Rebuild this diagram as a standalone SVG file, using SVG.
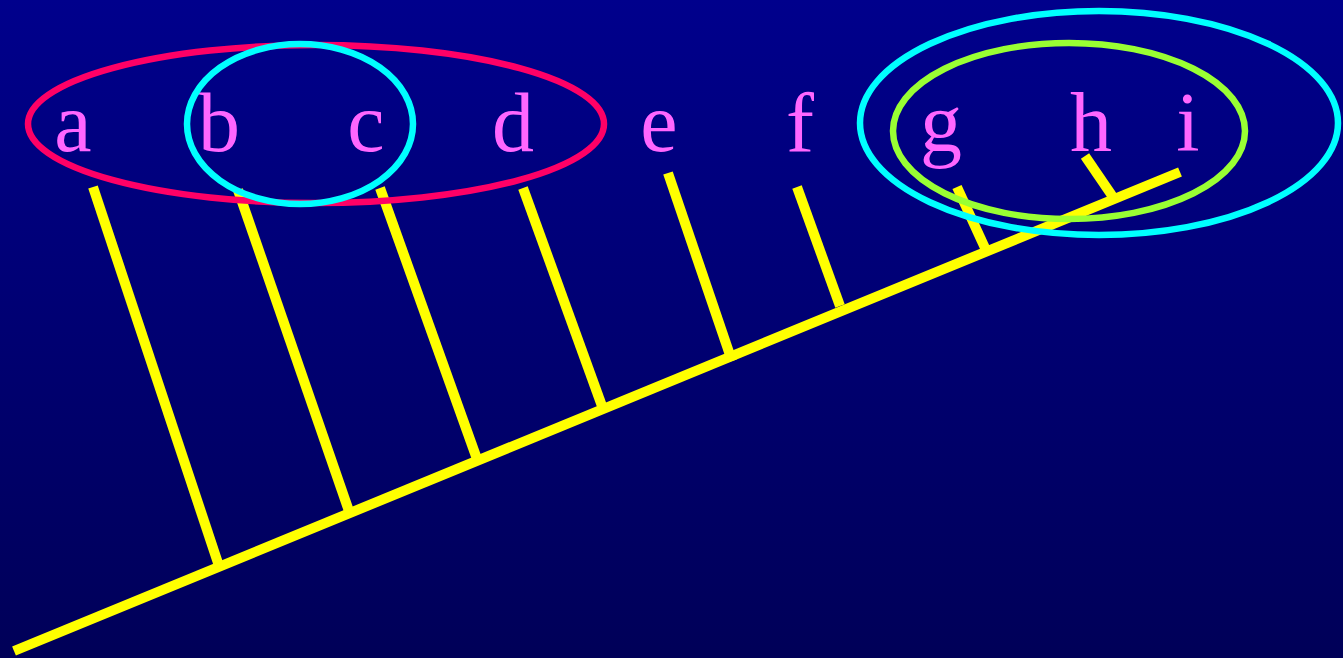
<svg xmlns="http://www.w3.org/2000/svg" width="1343" height="658" viewBox="0 0 1343 658">
<defs>
<linearGradient id="bg" x1="0" y1="0" x2="0" y2="1">
<stop offset="0" stop-color="#00008C"/>
<stop offset="1" stop-color="#000058"/>
</linearGradient>
</defs>
<style>
.edge{stroke:#FFFF00;stroke-width:10;fill:none;stroke-linecap:butt}
.lbl{font-family:"Liberation Serif","Times New Roman",serif;font-size:84px;fill:#FF66FF;text-anchor:middle}
.grp{fill:none;stroke-width:6.5}
</style>
<rect x="0" y="0" width="1343" height="658" fill="url(#bg)"/>
<g id="connectors">
<line class="edge" x1="14" y1="651" x2="1180" y2="172"/>
<line class="edge" x1="93" y1="187" x2="219" y2="566"/>
<line class="edge" x1="238" y1="190" x2="350" y2="514"/>
<line class="edge" x1="380" y1="188" x2="477" y2="459"/>
<line class="edge" x1="523" y1="188" x2="602" y2="406"/>
<line class="edge" x1="668" y1="173" x2="732" y2="361"/>
<line class="edge" x1="797" y1="187" x2="840" y2="306"/>
<line class="edge" x1="957" y1="187" x2="985" y2="248"/>
<line class="edge" x1="1085" y1="156" x2="1113" y2="197"/>
</g>
<g id="node-a"><text class="lbl" x="73" y="151">a</text></g>
<g id="node-b"><text class="lbl" x="219" y="151">b</text></g>
<g id="node-c"><text class="lbl" x="366" y="151">c</text></g>
<g id="node-d"><text class="lbl" x="513" y="151">d</text></g>
<g id="node-e"><text class="lbl" x="659" y="151">e</text></g>
<g id="node-f"><text class="lbl" x="800" y="151">f</text></g>
<g id="node-g"><text class="lbl" x="941" y="151">g</text></g>
<g id="node-h"><text class="lbl" x="1091" y="151">h</text></g>
<g id="node-i"><text class="lbl" x="1188" y="151">i</text></g>
<g id="group-abcd"><ellipse class="grp" stroke="#FF0066" cx="316" cy="124" rx="288" ry="79"/></g>
<g id="group-bc"><ellipse class="grp" stroke="#00FFFF" cx="300" cy="124" rx="113" ry="80"/></g>
<g id="group-ghi-outer"><ellipse class="grp" stroke="#00FFFF" cx="1099" cy="123" rx="239" ry="112"/></g>
<g id="group-ghi-inner"><ellipse class="grp" stroke="#99FF33" cx="1069" cy="131" rx="176" ry="88"/></g>
</svg>
